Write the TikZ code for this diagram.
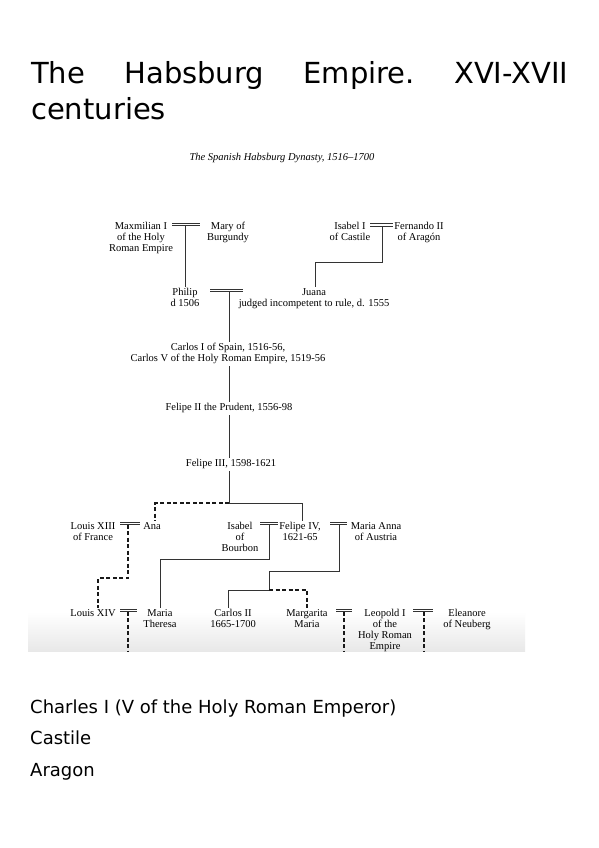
\documentclass[tikz,border=0pt]{standalone}
\usepackage{fontspec}
\setmainfont{Liberation Serif}
\newfontfamily\dejavu{DejaVu Sans}
\begin{document}
\begin{tikzpicture}[x=1pt,y=-1pt,
  titletext/.style={font=\dejavu\fontsize{29}{36}\selectfont, inner sep=0, anchor=base west},
  bodytext/.style={font=\dejavu\fontsize{18}{32}\selectfont, inner sep=0, anchor=base west},
  person/.style={font=\fontsize{10.5}{11}\selectfont, align=center, inner sep=0, outer sep=2pt, anchor=north, text=black},
  capt/.style={font=\itshape\fontsize{10.5}{11}\selectfont, inner sep=0, text=black},
  kin/.style={draw=black!80, line width=0.7pt},
  kindash/.style={draw=black!90, line width=1.1pt, dash pattern=on 4pt off 2.5pt},
  wed/.style={draw=black!80, line width=0.7pt}
]
\useasboundingbox (0,0) rectangle (599,848);
\fill[white] (0,0) rectangle (599,848);
% faded bottom of the scanned image
\shade[top color=white, bottom color=black!9, draw=none] (28,612) rectangle (525,651);

% title
\node[titletext] (t1) at (31,84) {\hbox to 537pt{The\hfill Habsburg\hfill Empire.\hfill XVI-XVII}};
\node[titletext] (t2) at (31,120) {centuries};

% caption
\node[capt] (cap) at (282,158) {The Spanish Habsburg Dynasty, 1516--1700};

% generation 1
\node[person] (maxi) at (141,220.5) {Maxmilian I\\of the Holy\\Roman Empire};
\node[person] (mary) at (228,220.5) {Mary of\\Burgundy};
\node[person] (isa1) at (350,220.5) {Isabel I\\of Castile};
\node[person] (fern) at (419,220.5) {Fernando II\\of Aragón};
% marriage marks
\coordinate (m1a) at (172,223); \coordinate (m1b) at (200,223);
\coordinate (m1) at (185,225.5);
\draw[wed] (m1a) -- (m1b); \draw[wed] (172,225.5) -- (200,225.5);
\coordinate (m3a) at (370,223.5); \coordinate (m3b) at (393,223.5);
\coordinate (m3) at (382,226);
\draw[wed] (m3a) -- (m3b); \draw[wed] (370,226) -- (393,226);

% generation 2
\node[person] (philip) at (185,286.5) {Philip\\d 1506};
\node[person] (juana) at (314,286.5) {Juana\\judged incompetent to rule, d. 1555};
\draw[kin] (m1) -- (philip.north);
\coordinate (j1) at (382,262); \coordinate (j2) at (315,262);
\draw[kin] (m3) -- (j1) -- (j2) -- (j2 |- juana.north);
\coordinate (m2) at (229,291.5);
\draw[wed] (210,289) -- (243,289); \draw[wed] (210,291.5) -- (243,291.5);

% Carlos, Felipe II, Felipe III
\node[person] (carlos) at (228,341.5) {Carlos I of Spain, 1516-56,\\Carlos V of the Holy Roman Empire, 1519-56};
\node[person] (fel2) at (229,401.5) {Felipe II the Prudent, 1556-98};
\node[person] (fel3) at (231,457.5) {Felipe III, 1598-1621};
\draw[kin] (m2) -- (m2 |- carlos.north);
\draw[kin] (m2 |- carlos.south) -- (m2 |- fel2.north);
\draw[kin] (m2 |- fel2.south) -- (m2 |- fel3.north);

% generation of Felipe III's children
\node[person] (louis13) at (93,520.5) {Louis XIII\\of France};
\node[person] (ana) at (152,520.5) {Ana};
\node[person] (isab) at (240,520.5) {Isabel\\of\\Bourbon};
\node[person] (fel4) at (300,520.5) {Felipe IV,\\1621-65};
\node[person] (manna) at (376,520.5) {Maria Anna\\of Austria};
\coordinate (f3) at (229,503);
\draw[kin] (m2 |- fel3.south) -- (f3);
\coordinate (f3a) at (155,503);
\draw[kindash] (f3) -- (f3a) -- (f3a |- ana.north);
\coordinate (f3b) at (302,503);
\draw[kin] (f3) -- (f3b) -- (f3b |- fel4.north);
% marriages
\coordinate (m4) at (128,524.5);
\draw[wed] (120,522) -- (140,522); \draw[wed] (120,524.5) -- (140,524.5);
\coordinate (m5) at (269,524.5);
\draw[wed] (260,522) -- (278,522); \draw[wed] (260,524.5) -- (278,524.5);
\coordinate (m6) at (339,524.5);
\draw[wed] (330,522) -- (347,522); \draw[wed] (330,524.5) -- (347,524.5);

% last generation
\node[person] (louis14) at (93,607.5) {Louis XIV};
\node[person] (mariat) at (160,607.5) {Maria\\Theresa};
\node[person] (carlos2) at (233,607.5) {Carlos II\\1665-1700};
\node[person] (marg) at (307,607.5) {Margarita\\Maria};
\node[person] (leop) at (385,607.5) {Leopold I\\of the\\Holy Roman\\Empire};
\node[person] (elea) at (467,607.5) {Eleanore\\of Neuberg};

% Louis XIII + Ana -> Louis XIV
\coordinate (a1) at (128,578); \coordinate (a2) at (98,578);
\draw[kindash] (m4) -- (a1) -- (a2) -- (a2 |- louis14.north);
% Isabel + Felipe IV -> Maria Theresa
\coordinate (b1) at (269,559); \coordinate (b2) at (160,559);
\draw[kin] (m5) -- (b1) -- (b2) -- (b2 |- mariat.north);
% Felipe IV + Maria Anna -> Carlos II, Margarita Maria
\coordinate (c1) at (339,571); \coordinate (c2) at (269,571);
\coordinate (c3) at (269,590); \coordinate (c4) at (228,590); \coordinate (c5) at (307,590);
\draw[kin] (m6) -- (c1) -- (c2) -- (c3) -- (c4) -- (c4 |- carlos2.north);
\draw[kindash] (c3) -- (c5) -- (c5 |- marg.north);

% marriages of last generation
\coordinate (m7) at (128,611.5);
\draw[wed] (120,609) -- (137,609); \draw[wed] (120,611.5) -- (137,611.5);
\coordinate (m8) at (344,611.5);
\draw[wed] (336,609) -- (352,609); \draw[wed] (336,611.5) -- (352,611.5);
\coordinate (m9) at (424,611.5);
\draw[wed] (413,609) -- (433,609); \draw[wed] (413,611.5) -- (433,611.5);
\coordinate (e7) at (128,651); \coordinate (e8) at (344,651); \coordinate (e9) at (424,651);
\draw[kindash] (m7) -- (e7);
\draw[kindash] (m8) -- (e8);
\draw[kindash] (m9) -- (e9);

% text below
\node[bodytext] (b1t) at (30,713) {Charles I (V of the Holy Roman Emperor)};
\node[bodytext] (b2t) at (30,744) {Castile};
\node[bodytext] (b3t) at (30,776) {Aragon};
\end{tikzpicture}
\end{document}
